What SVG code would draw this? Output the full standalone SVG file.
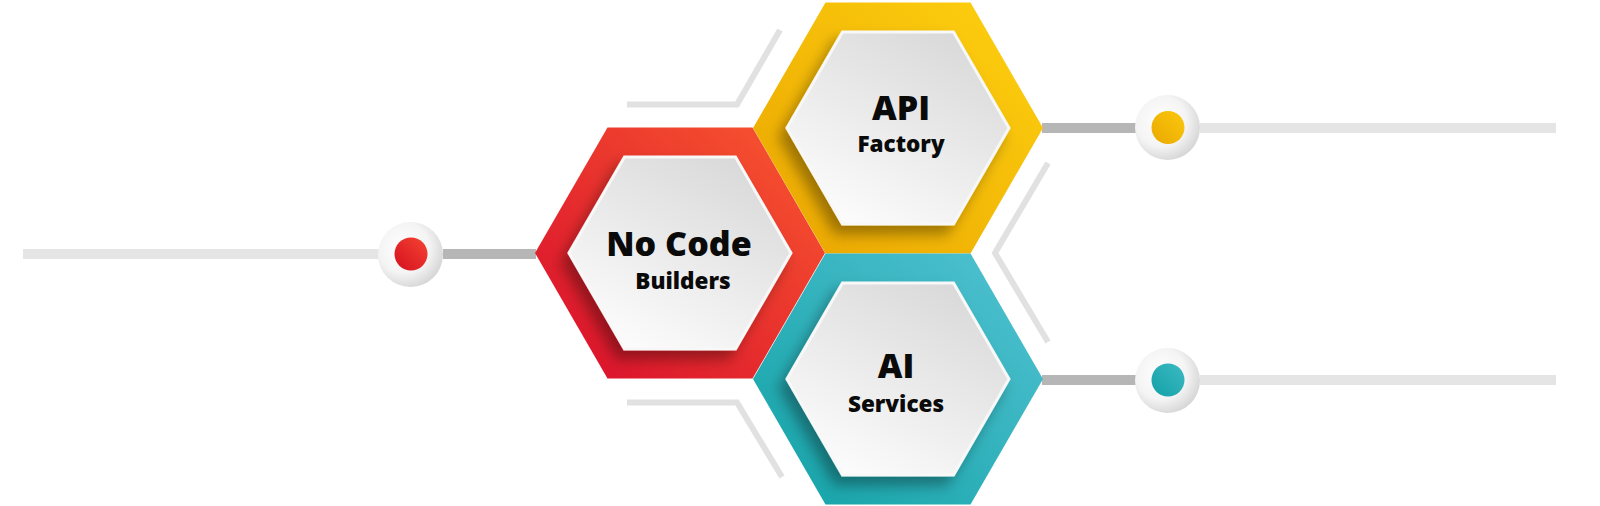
<svg xmlns="http://www.w3.org/2000/svg" xmlns:xlink="http://www.w3.org/1999/xlink" width="1600" height="506" viewBox="0 0 1600 506">
<defs>
<style>
.light{stroke:#e5e5e5;stroke-width:10;fill:none}
.dark{stroke:#b6b6b6;stroke-width:10;fill:none}
.chev{stroke:#e1e1e1;stroke-width:6;fill:none;stroke-linejoin:miter}
.inner{fill:url(#gInner);stroke:#f8f8f8;stroke-width:3;filter:url(#sh)}
.big{font-family:"Open Sans","Noto Sans","Liberation Sans",sans-serif;font-weight:800;font-size:34px;fill:#0a0a0a;text-anchor:middle}
.small{font-family:"Open Sans","Noto Sans","Liberation Sans",sans-serif;font-weight:800;font-size:22.5px;fill:#0a0a0a;text-anchor:middle}
.ring{fill:url(#gCircle)}
</style>
<polygon id="hexO" points="-145,0 -72.5,-125.6 72.5,-125.6 145,0 72.5,125.6 -72.5,125.6"/>
<polygon id="hexI" points="-111,0 -55.5,-96.1 55.5,-96.1 111,0 55.5,96.1 -55.5,96.1"/>
<linearGradient id="gRed" x1="0" y1="1" x2="1" y2="0">
<stop offset="0" stop-color="#d80c2c"/><stop offset="1" stop-color="#f9582f"/>
</linearGradient>
<linearGradient id="gYel" x1="0" y1="1" x2="1" y2="0">
<stop offset="0" stop-color="#eaa500"/><stop offset="1" stop-color="#fed110"/>
</linearGradient>
<linearGradient id="gTeal" x1="0" y1="1" x2="1" y2="0">
<stop offset="0" stop-color="#12a2a6"/><stop offset="1" stop-color="#52c2d2"/>
</linearGradient>
<linearGradient id="gInner" x1="0.2" y1="1" x2="0.8" y2="0">
<stop offset="0" stop-color="#fdfdfd"/><stop offset="1" stop-color="#d8d8d8"/>
</linearGradient>
<radialGradient id="gCircle" cx="0.4" cy="0.4" r="0.65">
<stop offset="0" stop-color="#ffffff"/><stop offset="0.6" stop-color="#f4f4f4"/><stop offset="1" stop-color="#d4d4d4"/>
</radialGradient>
<linearGradient id="dRed" x1="0" y1="1" x2="1" y2="0"><stop offset="0" stop-color="#d4101f"/><stop offset="1" stop-color="#f54432"/></linearGradient>
<linearGradient id="dYel" x1="0" y1="1" x2="1" y2="0"><stop offset="0" stop-color="#eaa800"/><stop offset="1" stop-color="#fbc80e"/></linearGradient>
<linearGradient id="dTeal" x1="0" y1="1" x2="1" y2="0"><stop offset="0" stop-color="#13a0a6"/><stop offset="1" stop-color="#3dbac4"/></linearGradient>
<filter id="sh" x="-30%" y="-30%" width="160%" height="160%">
<feDropShadow dx="-7" dy="9" stdDeviation="7" flood-color="#000" flood-opacity="0.35"/>
</filter>
</defs>
<rect width="1600" height="506" fill="#ffffff"/>
<g id="connectors">
<line class="light" x1="23" y1="254" x2="380" y2="254"/>
<line class="dark" x1="443" y1="254" x2="536" y2="254"/>
<line class="dark" x1="1042" y1="128" x2="1137" y2="128"/>
<line class="light" x1="1200" y1="128" x2="1556" y2="128"/>
<line class="dark" x1="1042" y1="380" x2="1137" y2="380"/>
<line class="light" x1="1200" y1="380" x2="1556" y2="380"/>
<path class="chev" d="M627,104.5 L737,104.5 L780,30"/>
<path class="chev" d="M627,402.5 L737,402.5 L782,477"/>
<path class="chev" d="M1048,163 L995,253 L1048,342"/>
</g>
<g id="dot-red">
<circle class="ring" cx="410.5" cy="254.5" r="32.5"/>
<circle cx="411" cy="254" r="16.5" fill="url(#dRed)"/>
</g>
<g id="dot-yellow">
<circle class="ring" cx="1167.5" cy="127.5" r="32.5"/>
<circle cx="1168" cy="127.5" r="16.5" fill="url(#dYel)"/>
</g>
<g id="dot-teal">
<circle class="ring" cx="1167.5" cy="380.5" r="32.5"/>
<circle cx="1168" cy="380" r="16.5" fill="url(#dTeal)"/>
</g>
<g id="node-nocode">
<use xlink:href="#hexO" x="680" y="253" fill="url(#gRed)"/>
<use xlink:href="#hexI" x="680" y="253" class="inner"/>
<text class="big" x="679" y="256">No Code</text>
<text class="small" x="683" y="289">Builders</text>
</g>
<g id="node-api">
<use xlink:href="#hexO" x="898" y="128" fill="url(#gYel)"/>
<use xlink:href="#hexI" x="898" y="128" class="inner"/>
<text class="big" x="901" y="120">API</text>
<text class="small" x="901" y="152">Factory</text>
</g>
<g id="node-ai">
<use xlink:href="#hexO" x="898" y="379" fill="url(#gTeal)"/>
<use xlink:href="#hexI" x="898" y="379" class="inner"/>
<text class="big" x="896" y="378">AI</text>
<text class="small" x="896" y="412">Services</text>
</g>
</svg>
